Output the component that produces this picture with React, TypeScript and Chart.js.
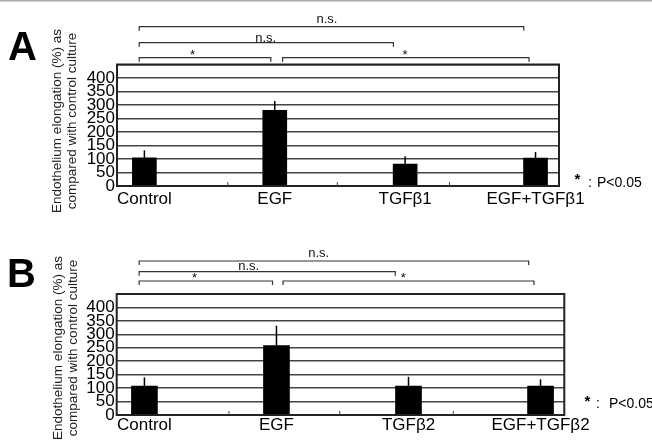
import React, { useEffect, useRef } from 'react';
import { Chart, registerables } from 'chart.js';

Chart.register(...registerables);

const FONT = '"Liberation Sans", Arial, Helvetica, sans-serif';

// ---- data ----
const CATEGORIES_A = ['Control', 'EGF', 'TGFβ1', 'EGF+TGFβ1'];
const VALUES_A = [104, 280, 81, 103];
const ERRORS_A = [28, 35, 29, 23];

const CATEGORIES_B = ['Control', 'EGF', 'TGFβ2', 'EGF+TGFβ2'];
const VALUES_B = [108, 258, 108, 108];
const ERRORS_B = [32, 74, 34, 25];

const Y_TICK_LABELS = [0, 50, 100, 150, 200, 250, 300, 350, 400];
const Y_MAX = 450;
const Y_STEP = 50;
const Y_TITLE = ['Endothelium elongation (%) as', 'compared with control culture'];
const LEGEND_MARK = '*';
const LEGEND_TEXT = 'P<0.05';

// significance brackets: from / to / label position in category units
const BRACKETS_A = [
  { from: -0.04, to: 2.91, label: 'n.s.', labelAt: 1.4, row: 0 },
  { from: -0.04, to: 1.91, label: 'n.s.', labelAt: 0.93, row: 1 },
  { from: -0.04, to: 0.97, label: '*', labelAt: 0.37, row: 2 },
  { from: 1.06, to: 2.95, label: '*', labelAt: 2.0, row: 2 },
];
const BRACKETS_B = [
  { from: -0.04, to: 2.91, label: 'n.s.', labelAt: 1.32, row: 0 },
  { from: -0.04, to: 1.9, label: 'n.s.', labelAt: 0.79, row: 1 },
  { from: -0.04, to: 0.97, label: '*', labelAt: 0.38, row: 2 },
  { from: 1.05, to: 2.95, label: '*', labelAt: 1.96, row: 2 },
];
const MINOR_TICKS = [0.64, 1.48, 2.34];
const X_MIN = -0.21;
const X_MAX = 3.18;

const PANELS = [
  {
    letter: 'A',
    categories: CATEGORIES_A,
    values: VALUES_A,
    errors: ERRORS_A,
    brackets: BRACKETS_A,
    height: 220,
    area: { top: 64.5, left: 117, right: 559, bottom: 186 },
    rowY: [26.7, 42.7, 57.7],
    rowGap: [3.3, 1.2, 0],
    letterPos: { x: 8, y: 60 },
    titleX: [57, 72],
    titleY: 121,
    legend: { starX: 577.5, starY: 183.5, colonX: 590, textX: 597, baseline: 187 },
    barThickness: 24,
    tickPad: 3,
    topRule: true,
  },
  {
    letter: 'B',
    categories: CATEGORIES_B,
    values: VALUES_B,
    errors: ERRORS_B,
    brackets: BRACKETS_B,
    height: 220,
    area: { top: 74, left: 116.7, right: 564.3, bottom: 195 },
    rowY: [41, 51.7, 61],
    rowGap: [4, 2, 0],
    letterPos: { x: 7, y: 67 },
    titleX: [58, 73],
    titleY: 128,
    legend: { starX: 587.5, starY: 185.5, colonX: 598, textX: 609, baseline: 188 },
    barThickness: 26,
    tickPad: 0,
    topRule: false,
  },
];

function makeOverlay(panel: any) {
  return {
    id: 'overlay' + panel.letter,
    afterDatasetsDraw(chart: any) {
      const { ctx, chartArea: ca, scales } = chart;
      const x = scales.x;
      const y = scales.y;
      ctx.save();

      // error bars
      ctx.strokeStyle = '#000';
      ctx.lineWidth = 1.5;
      panel.values.forEach((v: number, i: number) => {
        const px = x.getPixelForValue(i);
        ctx.beginPath();
        ctx.moveTo(px, y.getPixelForValue(v));
        ctx.lineTo(px, y.getPixelForValue(v + panel.errors[i]));
        ctx.stroke();
      });

      // frame
      ctx.strokeStyle = '#222';
      ctx.lineWidth = 2;
      ctx.strokeRect(ca.left, ca.top, ca.right - ca.left, ca.bottom - ca.top);

      // minor ticks on the baseline
      ctx.lineWidth = 1;
      ctx.strokeStyle = '#444';
      MINOR_TICKS.forEach((t) => {
        const px = x.getPixelForValue(t);
        ctx.beginPath();
        ctx.moveTo(px, ca.bottom);
        ctx.lineTo(px, ca.bottom - 4);
        ctx.stroke();
      });

      // brackets
      ctx.strokeStyle = '#333';
      ctx.lineWidth = 1.2;
      ctx.fillStyle = '#111';
      ctx.textAlign = 'center';
      ctx.textBaseline = 'alphabetic';
      panel.brackets.forEach((b: any) => {
        const yy = panel.rowY[b.row];
        const x0 = x.getPixelForValue(b.from);
        const x1 = x.getPixelForValue(b.to);
        ctx.beginPath();
        ctx.moveTo(x0, yy + 4);
        ctx.lineTo(x0, yy);
        ctx.lineTo(x1, yy);
        ctx.lineTo(x1, yy + 4);
        ctx.stroke();
        const lx = x.getPixelForValue(b.labelAt);
        if (b.label === '*') {
          ctx.font = `13px ${FONT}`;
          ctx.fillText(b.label, lx, yy + 1);
        } else {
          ctx.font = `13px ${FONT}`;
          ctx.fillText(b.label, lx, yy - panel.rowGap[b.row]);
        }
      });

      // panel letter
      ctx.fillStyle = '#000';
      ctx.textAlign = 'left';
      ctx.font = `bold 40px ${FONT}`;
      ctx.fillText(panel.letter, panel.letterPos.x, panel.letterPos.y);

      // y axis title (two lines, rotated)
      ctx.font = `13.5px ${FONT}`;
      ctx.fillStyle = '#222';
      Y_TITLE.forEach((line, i) => {
        ctx.save();
        ctx.translate(panel.titleX[i], panel.titleY);
        ctx.rotate(-Math.PI / 2);
        ctx.textAlign = 'center';
        ctx.textBaseline = 'middle';
        ctx.fillText(line, 0, 0);
        ctx.restore();
      });

      // significance legend
      const lg = panel.legend;
      ctx.fillStyle = '#000';
      ctx.textAlign = 'center';
      ctx.font = `bold 15px ${FONT}`;
      ctx.fillText(LEGEND_MARK, lg.starX, lg.starY);
      ctx.font = `14px ${FONT}`;
      ctx.fillText(':', lg.colonX, lg.baseline);
      ctx.textAlign = 'left';
      ctx.fillText(LEGEND_TEXT, lg.textX, lg.baseline);

      // top rule of the page
      if (panel.topRule) {
        ctx.fillStyle = '#aaa';
        ctx.fillRect(0, 0, chart.width, 1.5);
      }

      ctx.restore();
    },
  };
}

function Panel({ panel }: { panel: any }) {
  const ref = useRef<HTMLCanvasElement>(null);
  useEffect(() => {
    const canvas = ref.current!;
    const chart = new Chart(canvas, {
      type: 'bar',
      data: {
        datasets: [
          {
            data: panel.values.map((v: number, i: number) => ({ x: i, y: v })),
            backgroundColor: '#000',
            borderWidth: 0,
            barThickness: panel.barThickness,
          },
        ],
      },
      options: {
        animation: false,
        responsive: false,
        devicePixelRatio: 1,
        layout: {
          padding: { top: panel.area.top, left: 0, right: 652 - panel.area.right, bottom: 0 },
        },
        plugins: { legend: { display: false }, tooltip: { enabled: false } },
        scales: {
          x: {
            type: 'linear',
            min: X_MIN,
            max: X_MAX,
            offset: false,
            grid: { display: false, drawTicks: false },
            border: { display: false },
            afterBuildTicks: (axis: any) => {
              axis.ticks = panel.categories.map((_: string, i: number) => ({ value: i }));
            },
            afterFit: (s: any) => {
              s.height = panel.height - panel.area.bottom;
            },
            ticks: {
              autoSkip: false,
              maxRotation: 0,
              padding: panel.tickPad,
              color: '#000',
              font: { family: FONT, size: 17 },
              callback: (v: any) => panel.categories[Math.round(v)] ?? '',
            },
          },
          y: {
            min: 0,
            max: Y_MAX,
            grid: { color: '#444', lineWidth: 1.5, drawTicks: false },
            border: { display: false },
            afterFit: (s: any) => {
              s.width = panel.area.left;
            },
            ticks: {
              stepSize: Y_STEP,
              autoSkip: false,
              padding: 2,
              color: '#000',
              font: { family: FONT, size: 17 },
              callback: (v: any) => (Y_TICK_LABELS.includes(v) ? String(v) : ''),
            },
          },
        },
      } as any,
      plugins: [makeOverlay(panel)],
    });
    return () => chart.destroy();
  }, [panel]);
  return (
    <canvas
      ref={ref}
      width={652}
      height={panel.height}
      style={{ display: 'block', width: 652, height: panel.height }}
    />
  );
}

export default function App() {
  return (
    <div style={{ position: 'absolute', left: 0, top: 0, width: 652, height: 440, background: '#fff' }}>
      {PANELS.map((p) => (
        <Panel key={p.letter} panel={p} />
      ))}
    </div>
  );
}
